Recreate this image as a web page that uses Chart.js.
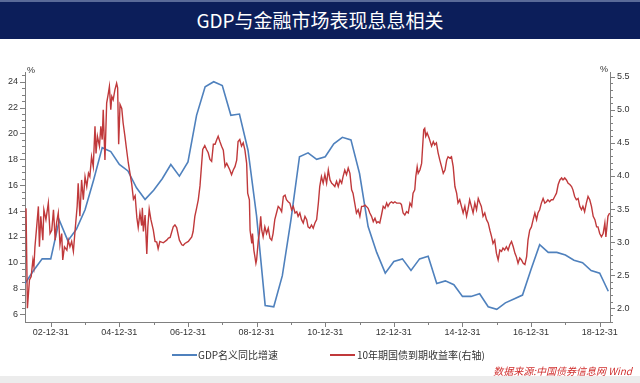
<!DOCTYPE html>
<html><head><meta charset="utf-8">
<script src="https://cdn.jsdelivr.net/npm/chart.js@4.4.0/dist/chart.umd.min.js"></script>
<style>
html,body{margin:0;padding:0;background:#fff;}
#wrap{position:relative;width:640px;height:383px;overflow:hidden;background:#fff;font-family:"Noto Sans CJK SC","Liberation Sans",sans-serif;}
#title{position:absolute;left:0;top:0;width:640px;height:39px;background:#0c1e5a;border-top:2px solid #5a6a98;box-sizing:border-box;color:#fff;font-size:19px;line-height:36px;text-align:center;z-index:2;}
#c{position:absolute;left:0;top:0;}
.leg{position:absolute;top:347px;font-size:10px;line-height:16px;color:#333;white-space:nowrap;}
.sw{position:absolute;top:354px;width:25px;height:2px;}
#src{position:absolute;right:8px;top:363px;font-size:10px;line-height:16px;color:#d0302f;font-style:italic;white-space:nowrap;}
#foot{position:absolute;left:0;top:376px;width:640px;height:7px;background:#ececec;}
</style></head>
<body><div id="wrap">
<div id="title">GDP与金融市场表现息息相关</div>
<canvas id="c" width="640" height="383"></canvas>
<div class="sw" style="left:172px;background:#4f81bd"></div><div class="leg" style="left:198px">GDP名义同比增速</div>
<div class="sw" style="left:330px;background:#c0393b"></div><div class="leg" style="left:357px">10年期国债到期收益率(右轴)</div>
<div id="src">数据来源:中国债券信息网 Wind</div>
<div id="foot"></div>
</div>
<script>
// GDP nominal YoY growth, quarterly from 2002Q1
const gdpStartYear = 2002;
const gdpGrowth = [
 8.4, 9.4, 10.3, 10.3,
 13.3, 11.7, 12.6, 14.1,
 16.4, 18.9, 18.6, 17.6,
 17.1, 15.8, 14.9, 15.6,
 16.5, 17.6, 16.7, 17.8,
 21.4, 23.6, 24.0, 23.7,
 21.4, 21.5, 18.7, 13.6,
 6.7, 6.6, 9.0, 13.3,
 18.2, 18.5, 18.0, 18.2,
 19.2, 19.7, 19.5, 16.9,
 12.8, 10.8, 9.2, 10.1,
 10.3, 9.4, 10.3, 10.5,
 8.4, 8.6, 8.3, 7.4,
 7.4, 7.6, 6.6, 6.4,
 6.9, 7.2, 7.5, 9.5,
 11.4, 10.8, 10.8, 10.6,
 10.2, 10.0, 9.4, 9.2,
 7.8
];
// 10Y government bond yield (right axis), dates as decimal years
const bondDates = [
2002.28,2002.32,2002.38,2002.43,2002.48,2002.51,2002.54,2002.59,2002.64,2002.67,2002.71,2002.77,2002.80,2002.86,2002.93,2002.98,
2003.03,2003.08,2003.13,2003.17,2003.22,2003.27,2003.32,2003.35,2003.40,2003.47,2003.51,2003.56,2003.61,2003.66,2003.71,2003.77,2003.80,2003.85,2003.90,2003.95,
2004.00,2004.05,2004.10,2004.14,2004.19,2004.24,2004.29,2004.32,2004.36,2004.42,2004.46,2004.50,2004.53,2004.58,2004.63,2004.68,2004.71,2004.75,2004.78,2004.82,2004.87,2004.92,2004.95,2004.98,
2005.02,2005.07,2005.11,2005.16,2005.21,2005.26,2005.31,2005.36,2005.41,2005.46,2005.51,2005.55,2005.60,2005.65,2005.67,2005.70,2005.75,2005.80,2005.83,2005.87,2005.92,2005.99,
2006.04,2006.09,2006.13,2006.18,2006.28,2006.38,2006.43,2006.48,2006.57,2006.62,2006.67,2006.75,2006.82,2006.86,2006.91,
2007.01,2007.11,2007.15,2007.20,2007.25,2007.30,2007.35,2007.43,2007.49,2007.54,2007.59,2007.64,2007.69,2007.74,2007.79,2007.84,2007.88,2007.93,2007.98,
2008.03,2008.08,2008.13,2008.22,2008.27,2008.32,2008.37,2008.42,2008.46,2008.51,2008.56,2008.61,2008.66,2008.71,2008.74,2008.79,2008.81,2008.86,2008.88,2008.92,2008.95,2008.98,
2009.00,2009.05,2009.08,2009.12,2009.15,2009.19,2009.24,2009.29,2009.34,2009.39,2009.44,2009.48,2009.53,2009.58,2009.63,2009.68,2009.73,2009.78,2009.83,2009.87,2009.92,2009.97,
2010.02,2010.07,2010.12,2010.17,2010.21,2010.26,2010.31,2010.36,2010.41,2010.46,2010.50,2010.55,2010.60,2010.65,2010.70,2010.75,2010.80,2010.84,2010.89,2010.94,2010.99,
2011.04,2011.09,2011.14,2011.19,2011.23,2011.28,2011.33,2011.38,2011.43,2011.48,2011.52,2011.57,2011.62,2011.67,2011.72,2011.77,2011.81,2011.86,2011.91,2011.96,
2012.01,2012.06,2012.11,2012.16,2012.20,2012.25,2012.30,2012.35,2012.40,2012.45,2012.50,2012.54,2012.59,2012.64,2012.69,2012.74,2012.79,2012.83,2012.88,2012.93,2012.98,
2013.03,2013.08,2013.18,2013.22,2013.27,2013.32,2013.37,2013.42,2013.47,2013.52,2013.56,2013.61,2013.64,2013.68,2013.71,2013.76,2013.81,2013.84,2013.87,2013.90,2013.93,2013.97,
2014.03,2014.07,2014.10,2014.15,2014.19,2014.24,2014.29,2014.34,2014.39,2014.44,2014.49,2014.54,2014.58,2014.63,2014.68,2014.73,2014.78,2014.83,2014.87,2014.92,2014.97,
2015.02,2015.07,2015.12,2015.16,2015.21,2015.26,2015.31,2015.36,2015.41,2015.46,2015.51,2015.55,2015.60,2015.65,2015.70,2015.75,2015.80,2015.85,2015.89,2015.94,2015.99,
2016.04,2016.09,2016.14,2016.18,2016.23,2016.28,2016.33,2016.38,2016.43,2016.48,2016.53,2016.57,2016.62,2016.67,2016.72,2016.77,2016.82,2016.87,2016.91,2016.96,
2017.01,2017.06,2017.11,2017.16,2017.20,2017.25,2017.30,2017.35,2017.40,2017.45,2017.49,2017.54,2017.59,2017.64,2017.69,2017.74,2017.79,2017.84,2017.89,2017.93,2017.98,
2018.03,2018.08,2018.13,2018.18,2018.22,2018.27,2018.32,2018.37,2018.42,2018.47,2018.51,2018.56,2018.61,2018.66,2018.71,2018.76,2018.81,2018.86,2018.91,2018.95,
2019.00,2019.05,2019.10,2019.15,2019.18,2019.21,2019.24,2019.29
];
const bondYield = [
3.51,2.00,2.43,2.48,2.73,2.63,2.93,3.23,3.54,2.93,3.39,3.03,3.49,3.34,3.59,3.13,
3.18,3.49,3.03,3.29,3.44,2.96,3.13,2.73,2.93,2.88,3.03,2.93,3.01,2.86,3.18,3.54,3.89,3.39,3.94,3.64,
3.99,3.84,4.04,3.99,4.29,4.14,4.75,4.34,4.60,4.45,4.75,4.55,5.00,4.24,5.10,5.25,5.35,5.00,5.20,5.15,5.30,5.40,5.33,4.48,
5.08,5.02,4.80,4.61,4.40,4.20,4.04,3.88,3.65,3.70,3.37,3.22,3.44,3.25,3.52,3.16,3.41,2.82,3.23,3.50,3.34,3.18,
3.01,3.00,2.90,3.01,2.99,3.03,3.06,3.07,3.23,3.26,3.22,3.03,2.96,2.95,2.98,
3.01,3.08,3.16,3.39,3.51,3.64,3.85,4.40,4.46,4.40,4.35,4.25,4.22,4.48,4.48,4.55,4.60,4.52,4.45,
4.39,4.14,4.19,4.09,4.02,4.09,4.14,4.24,4.52,4.55,4.45,4.50,4.39,4.19,3.74,3.64,3.18,2.98,3.13,2.88,2.78,2.68,
2.73,3.03,3.13,3.39,3.18,3.08,3.23,3.13,3.21,3.06,3.03,3.13,3.34,3.44,3.54,3.51,3.46,3.69,3.71,3.64,3.61,3.59,
3.49,3.54,3.44,3.46,3.39,3.44,3.34,3.29,3.39,3.34,3.23,3.21,3.26,3.21,3.29,3.34,3.59,3.84,3.99,3.89,4.02,
3.89,4.09,3.94,3.89,3.87,3.84,3.92,3.84,3.94,3.89,3.99,4.09,4.02,4.12,4.04,3.79,3.74,3.59,3.44,3.49,
3.39,3.54,3.54,3.56,3.54,3.51,3.44,3.39,3.31,3.36,3.29,3.31,3.29,3.41,3.54,3.51,3.59,3.54,3.59,3.61,3.59,
3.61,3.59,3.59,3.57,3.44,3.41,3.46,3.44,3.59,3.54,3.74,3.79,3.99,4.14,4.04,4.09,4.19,4.45,4.70,4.72,4.60,4.65,
4.57,4.50,4.45,4.52,4.47,4.50,4.35,4.24,4.14,4.04,4.09,4.24,4.29,4.27,4.29,4.14,3.84,3.74,3.59,3.64,3.54,
3.44,3.54,3.39,3.49,3.64,3.54,3.44,3.59,3.49,3.66,3.59,3.54,3.39,3.44,3.34,3.29,3.18,3.08,2.98,3.03,2.83,
2.73,2.88,2.86,2.91,2.88,2.93,2.88,2.96,3.01,2.93,2.83,2.78,2.68,2.76,2.73,2.68,2.66,2.78,3.03,3.18,
3.23,3.34,3.44,3.34,3.44,3.49,3.59,3.66,3.59,3.61,3.64,3.61,3.64,3.64,3.69,3.74,3.87,3.94,3.97,3.94,3.97,
3.94,3.89,3.87,3.84,3.79,3.69,3.64,3.66,3.54,3.49,3.54,3.46,3.59,3.69,3.64,3.54,3.39,3.34,3.23,3.23,
3.13,3.08,3.13,3.29,3.08,3.23,3.39,3.44
];
const leftTicks = [6,8,10,12,14,16,18,20,22,24];
const rightTicks = [2.0,2.5,3.0,3.5,4.0,4.5,5.0,5.5];
const xTickYears = [2003,2004,2005,2006,2007,2008,2009,2010,2011,2012,2013,2014,2015,2016,2017,2018,2019];
const xTickLabels = ['02-12-31','','04-12-31','','06-12-31','','08-12-31','','10-12-31','','12-12-31','','14-12-31','','16-12-31','','18-12-31'];

const gdpPoints = gdpGrowth.map((v,i)=>({x: gdpStartYear + (i+1)/4, y: v}));
const bondPoints = bondDates.map((d,i)=>({x: d, y: bondYield[i]}));

const AXIS = '#808080', LBL = '#333';
const tickFont = {family:'Liberation Sans', size:9};

const axisTicks = {
  id:'axisTicks',
  afterDraw(chart){
    const ctx = chart.ctx, a = chart.chartArea;
    const sx = chart.scales.x, sl = chart.scales.yL, sr = chart.scales.yR;
    ctx.save();
    ctx.strokeStyle = AXIS; ctx.lineWidth = 1;
    ctx.beginPath();
    xTickYears.forEach((yr,i)=>{
      const px = Math.round(sx.getPixelForValue(yr))+0.5;
      const len = xTickLabels[i] ? 5 : 3;
      ctx.moveTo(px, a.bottom); ctx.lineTo(px, a.bottom+len);
    });
    for (let v = 6; v <= 24.5; v += 0.5){
      const py = Math.round(sl.getPixelForValue(v))+0.5;
      const major = leftTicks.includes(v);
      ctx.moveTo(a.left-(major?5:3), py); ctx.lineTo(a.left, py);
    }
    for (let k = 18; k <= 55; k++){
      const v = k/10;
      const py = Math.round(sr.getPixelForValue(v))+0.5;
      const major = (k % 5 === 0);
      ctx.moveTo(a.right, py); ctx.lineTo(a.right+(major?5:3), py);
    }
    ctx.stroke();
    ctx.fillStyle = LBL; ctx.font = '9px "Liberation Sans"'; ctx.textBaseline = 'middle';
    ctx.textAlign = 'left'; ctx.fillText('%', a.left+2, 71);
    ctx.textAlign = 'right'; ctx.fillText('%', a.right-2, 70);
    ctx.restore();
  }
};

new Chart(document.getElementById('c'), {
  type:'line',
  data:{datasets:[
    {label:'GDP名义同比增速', data:gdpPoints, yAxisID:'yL', borderColor:'#4f81bd', backgroundColor:'#4f81bd', borderWidth:1.6, pointRadius:0, tension:0, order:1},
    {label:'10年期国债到期收益率(右轴)', data:bondPoints, yAxisID:'yR', borderColor:'#c0393b', backgroundColor:'#c0393b', borderWidth:1.4, pointRadius:0, tension:0, order:0}
  ]},
  options:{
    responsive:false, animation:false, devicePixelRatio:1,
    layout:{padding:{top:72, bottom:41, left:0, right:0}},
    plugins:{legend:{display:false}, tooltip:{enabled:false}},
    scales:{
      x:{type:'linear', min:2002.25, max:2019.3,
         afterBuildTicks:s=>{s.ticks = xTickYears.map(v=>({value:v}));},
         afterFit:s=>{s.height=20;},
         ticks:{autoSkip:false, maxRotation:0, minRotation:0, font:tickFont, color:LBL, padding:2, callback:(v,i)=>xTickLabels[i]},
         grid:{drawOnChartArea:false, drawTicks:true, tickLength:3, color:'rgba(0,0,0,0)'},
         border:{display:true, color:AXIS}},
      yL:{type:'linear', position:'left', min:5.42, max:24.75,
         afterBuildTicks:s=>{s.ticks = leftTicks.map(v=>({value:v}));},
         afterFit:s=>{s.width=25;},
         ticks:{font:tickFont, color:LBL, padding:2, callback:v=>String(v)},
         grid:{drawOnChartArea:false, drawTicks:true, tickLength:5, color:'rgba(0,0,0,0)'},
         border:{display:true, color:AXIS}},
      yR:{type:'linear', position:'right', min:1.793, max:5.571,
         afterBuildTicks:s=>{s.ticks = rightTicks.map(v=>({value:v}));},
         afterFit:s=>{s.width=30;},
         ticks:{font:tickFont, color:LBL, padding:2, callback:v=>Number(v).toFixed(1)},
         grid:{drawOnChartArea:false, drawTicks:true, tickLength:5, color:'rgba(0,0,0,0)'},
         border:{display:true, color:AXIS}}
    }
  },
  plugins:[axisTicks]
});
</script>
</body></html>
